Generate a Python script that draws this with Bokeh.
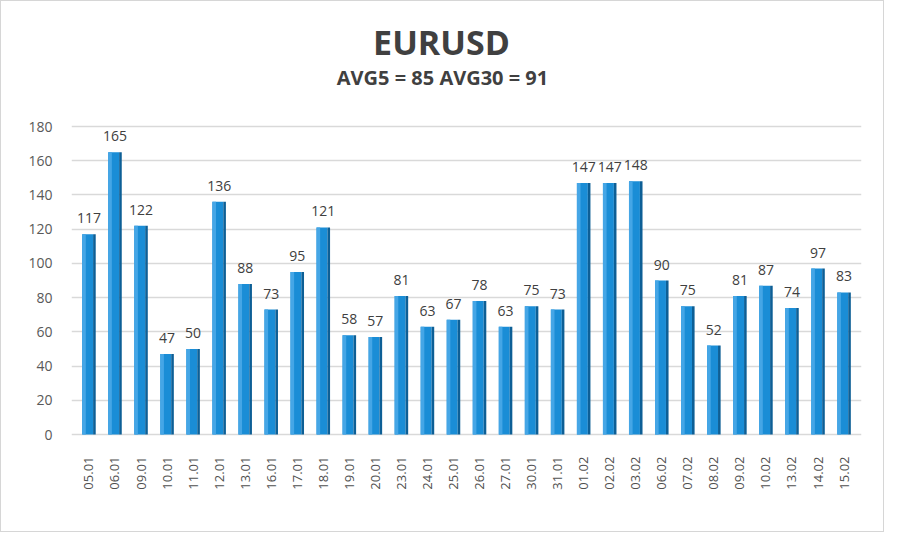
from bokeh.plotting import figure
from bokeh.models import ColumnDataSource, FactorRange, Range1d, LabelSet, Label
from bokeh.transform import dodge
from bokeh.core.properties import value
from bokeh.embed import file_html
from bokeh.resources import INLINE
import math

dates = ["05.01", "06.01", "09.01", "10.01", "11.01", "12.01", "13.01", "16.01", "17.01", "18.01",
         "19.01", "20.01", "23.01", "24.01", "25.01", "26.01", "27.01", "30.01", "31.01", "01.02",
         "02.02", "03.02", "06.02", "07.02", "08.02", "09.02", "10.02", "13.02", "14.02", "15.02"]
values = [117, 165, 122, 47, 50, 136, 88, 73, 95, 121,
          58, 57, 81, 63, 67, 78, 63, 75, 73, 147,
          147, 148, 90, 75, 52, 81, 87, 74, 97, 83]
y_ticks = [0, 20, 40, 60, 80, 100, 120, 140, 160, 180]
title_text = "EURUSD"
subtitle_text = "AVG5 = 85 AVG30 = 91"

src = ColumnDataSource(dict(x=dates, top=values, label=[str(v) for v in values]))

FONT = "Open Sans"
W, H = 884, 532
ML, MR, MT, MB = 70, 24, 0, 88
frame_h = H - MT - MB
PX_PER_UNIT = 308 / 180.0
zero_y = 433  # canvas y of value 0
y_start = -(MT + frame_h - zero_y) / PX_PER_UNIT
y_end = (zero_y - MT) / PX_PER_UNIT

p = figure(width=W, height=H, output_backend="svg", toolbar_location=None,
           x_range=FactorRange(factors=dates, range_padding=0.17, range_padding_units="absolute"),
           y_range=Range1d(y_start, y_end),
           min_border_left=ML, min_border_right=MR, min_border_top=MT, min_border_bottom=MB)
p.title.visible = False

main = Label(x=440 - ML, y=MT + frame_h - 40, x_units="screen", y_units="screen",
             text=title_text, text_align="center", text_baseline="middle",
             text_font=FONT, text_font_size="34px", text_font_style="bold", text_color="#404040")
sub = Label(x=441 - ML, y=MT + frame_h - 76, x_units="screen", y_units="screen",
            text=subtitle_text, text_align="center", text_baseline="middle",
            text_font=FONT, text_font_size="20px", text_font_style="bold", text_color="#404040")
p.add_layout(main)
p.add_layout(sub)

p.outline_line_color = None
p.background_fill_color = "white"
p.border_fill_color = "white"

p.xgrid.grid_line_color = None
p.ygrid.grid_line_color = "#d9d9d9"
p.ygrid.grid_line_width = 1.6
p.yaxis.ticker = y_ticks
p.yaxis.axis_line_color = None
p.yaxis.major_tick_line_color = None
p.yaxis.minor_tick_line_color = None
p.yaxis.major_label_text_font = FONT
p.yaxis.major_label_text_font_size = "14px"
p.yaxis.major_label_text_color = "#595959"
p.yaxis.major_label_standoff = 13

p.xaxis.axis_line_color = None
p.xaxis.major_tick_line_color = None
p.xaxis.major_label_orientation = math.pi / 2
p.xaxis.major_label_text_font = FONT
p.xaxis.major_label_text_font_size = "13px"
p.xaxis.major_label_text_color = "#505050"
p.xaxis.major_label_standoff = 5

# front face
p.vbar(x=dodge("x", -0.05, range=p.x_range), top="top", bottom=0, width=0.42, source=src,
       fill_color="#1a8dd6", line_color=None)
# light left stripe
p.vbar(x=dodge("x", -0.19, range=p.x_range), top="top", bottom=0, width=0.14, source=src,
       fill_color="#45a6e6", line_color=None)
# dark side face
p.vbar(x=dodge("x", 0.21, range=p.x_range), top="top", bottom=0, width=0.1, source=src,
       fill_color="#0d5f96", line_color=None)

labels = LabelSet(x="x", y="top", text="label", source=src, y_offset=11,
                  text_align="center", text_baseline="bottom",
                  text_font=value(FONT), text_font_size="14px", text_color="#404040")
p.add_layout(labels)

p.styles = {"border": "1px solid #d6d6d6"}

open("out.html", "w").write(file_html(p, INLINE))
